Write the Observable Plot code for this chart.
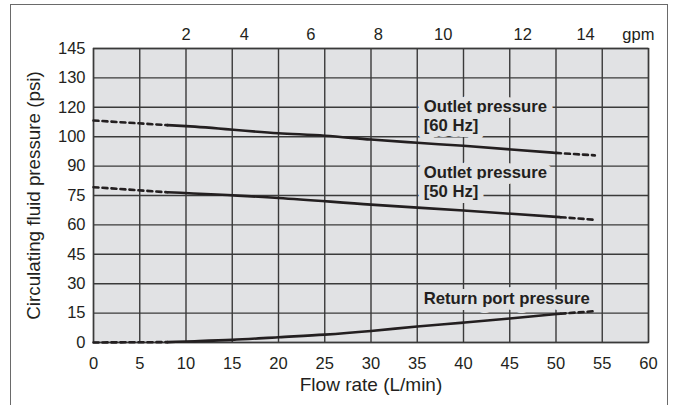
<!DOCTYPE html>
<html><head><meta charset="utf-8">
<script src="https://cdn.jsdelivr.net/npm/d3@7"></script>
<script src="https://cdn.jsdelivr.net/npm/@observablehq/plot@0.6"></script>
<style>
body{margin:0;background:#fff;overflow:hidden;}
#wrap{position:relative;width:678px;height:405px;}
#border{position:absolute;left:10px;top:4px;width:656px;height:430px;border:1.5px solid #6a6a6a;}
#chart{position:absolute;left:0;top:0;}
</style></head><body>
<div id="wrap"><div id="border"></div><div id="chart"></div></div>
<script>
// Axis ticks
const flowTicks = [0, 5, 10, 15, 20, 25, 30, 35, 40, 45, 50, 55, 60];
const psiTickPos = [0, 14.5, 29, 43.5, 58, 72.5, 87, 101.5, 116, 130.5, 145];
const psiTickLabels = ["0", "15", "30", "45", "60", "75", "90", "100", "120", "130", "145"];
const gpmTickPos = [10.0, 16.3, 23.5, 30.8, 37.8, 46.4, 53.2, 58.9];
const gpmTickLabels = ["2", "4", "6", "8", "10", "12", "14", "gpm"];

// Outlet pressure 60 Hz
const flow60 = [8, 10, 20, 25, 30, 35, 40, 50];
const p60 = [107.2, 106.7, 103.2, 102.0, 100.1, 98.5, 97.0, 93.5];
const flow60Lo = [0, 8];
const p60Lo = [109.5, 107.2];
const flow60Hi = [50, 54.2];
const p60Hi = [93.5, 92.3];

// Outlet pressure 50 Hz
const flow50 = [8, 20, 30, 40, 50.5];
const p50 = [74.1, 71.3, 68.0, 65.1, 61.8];
const flow50Lo = [0, 8];
const p50Lo = [76.6, 74.1];
const flow50Hi = [50.5, 54];
const p50Hi = [61.8, 60.6];

// Return port pressure
const flowRet = [8, 10, 15, 20, 25, 30, 35, 40, 45, 50.5];
const pRet = [0.2, 0.5, 1.3, 2.6, 3.9, 5.7, 7.9, 9.8, 11.8, 14.2];
const flowRetLo = [0, 8];
const pRetLo = [0, 0.2];
const flowRetHi = [50.5, 54];
const pRetHi = [14.2, 15.4];

// Labels
const labelText = ["Outlet pressure\n[60 Hz]", "Outlet pressure\n[50 Hz]", "Return port pressure"];
const labelX = [35.7, 35.7, 35.7];
const labelY = [112.2, 79.3, 22.2];

const xTitle = "Flow rate (L/min)";
const yTitle = "Circulating fluid pressure (psi)";

function rows(name, xs, ys) { return xs.map((x, i) => ({series: name, x, y: ys[i]})); }
const solid = [...rows("60", flow60, p60), ...rows("50", flow50, p50), ...rows("ret", flowRet, pRet)];
const dashed = [
  ...rows("60lo", flow60Lo, p60Lo), ...rows("60hi", flow60Hi, p60Hi),
  ...rows("50lo", flow50Lo, p50Lo), ...rows("50hi", flow50Hi, p50Hi),
  ...rows("retlo", flowRetLo, pRetLo), ...rows("rethi", flowRetHi, pRetHi)
];
const labels = labelText.map((t, i) => ({t, x: labelX[i], y: labelY[i]}));

const bg = "#e1e2e4";
const ink = "#231f20";
const grid = "#3a3a3a";

const chart = Plot.plot({
  width: 678, height: 405,
  marginLeft: 93, marginRight: 30, marginTop: 48, marginBottom: 63,
  style: {fontFamily: "'Liberation Sans', Arial, Helvetica, sans-serif", fontSize: "16px", color: ink, background: "transparent"},
  x: {domain: [0, 60]},
  y: {domain: [0, 145]},
  marks: [
    Plot.frame({fill: bg, stroke: null}),
    Plot.gridX(flowTicks, {stroke: grid, strokeOpacity: 1, strokeWidth: 1.4}),
    Plot.gridY(psiTickPos, {stroke: grid, strokeOpacity: 1, strokeWidth: 1.4}),
    Plot.frame({stroke: grid, strokeWidth: 1.4}),
    Plot.axisX(flowTicks, {anchor: "bottom", tickSize: 0, tickPadding: 15, label: null, fontSize: 16.5}),
    Plot.axisX(gpmTickPos, {anchor: "top", tickSize: 0, tickPadding: 9, label: null, fontSize: 16.5,
      tickFormat: d => gpmTickLabels[gpmTickPos.indexOf(d)]}),
    Plot.axisY(psiTickPos, {anchor: "left", tickSize: 0, tickPadding: 8, label: null, fontSize: 16.5,
      tickFormat: d => psiTickLabels[psiTickPos.indexOf(d)]}),
    Plot.text([xTitle], {text: d => d, frameAnchor: "bottom", lineAnchor: "middle", textAnchor: "middle", dy: 42, fontSize: 19, fill: ink}),
    Plot.text([yTitle], {text: d => d, frameAnchor: "left", rotate: -90, textAnchor: "middle", lineAnchor: "middle", dx: -60, fontSize: 18.8, fill: ink}),
    Plot.text(labels, {x: "x", y: "y", text: "t", textAnchor: "start", lineAnchor: "middle", lineHeight: 1.15,
      fontSize: 16.7, fontWeight: "bold", fill: ink, stroke: bg, strokeWidth: 12, strokeLinejoin: "round", paintOrder: "stroke"}),
    Plot.line(dashed, {x: "x", y: "y", z: "series", stroke: ink, strokeWidth: 2.6, strokeDasharray: "5,4"}),
    Plot.line(solid, {x: "x", y: "y", z: "series", stroke: ink, strokeWidth: 2.6, curve: "monotone-x"})
  ]
});
document.getElementById("chart").appendChild(chart);
</script>
</body></html>
